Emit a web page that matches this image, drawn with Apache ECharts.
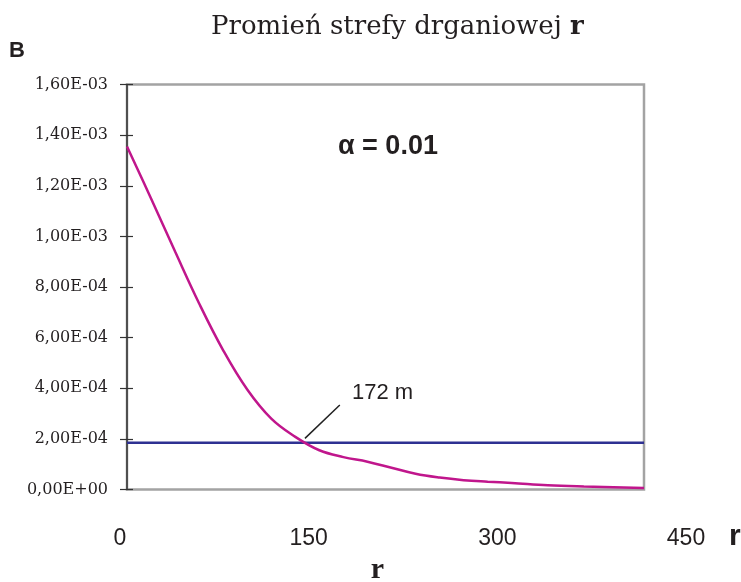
<!DOCTYPE html>
<html>
<head>
<meta charset="utf-8">
<script src="https://cdn.jsdelivr.net/npm/echarts@6/dist/echarts.min.js"></script>
<style>
  html, body { margin: 0; padding: 0; background: #fff; }
  #chart { width: 741px; height: 582px; }
</style>
</head>
<body>
<div id="chart"></div>
<script>
// promień r i wartość krzywej
const rValues = [0, 20, 40, 60, 80, 100, 120, 140, 160, 180, 200, 220, 240, 260, 280, 300, 320, 350, 380, 430];
const curveValues = [1.355e-3, 1.15e-3, 0.94e-3, 0.735e-3, 0.55e-3, 0.395e-3, 0.28e-3, 0.208e-3, 0.155e-3, 0.128e-3,
  0.110e-3, 0.086e-3, 0.062e-3, 0.047e-3, 0.037e-3, 0.031e-3, 0.026e-3, 0.017e-3, 0.012e-3, 0.006e-3];
const thresholdX = [0, 430];
const thresholdValue = 1.845e-4;
const xTickLabels = [0, 150, 300, 450];
const leaderFrom = [148, 2.02e-4];
const leaderTo = [177, 3.34e-4];

const chart = echarts.init(document.getElementById('chart'));

// 1.60e-3 -> 1,60E-03
function fmtExp(v) {
  if (v === 0) return '0,00E+00';
  const s = v.toExponential(2);
  const parts = s.split('e');
  const m = parts[0].replace('.', ',');
  const sign = parts[1][0];
  let e = parts[1].slice(1);
  if (e.length < 2) e = '0' + e;
  return m + 'E' + sign + e;
}

const option = {
  animation: false,
  backgroundColor: '#fff',
  title: {
    text: 'Promień strefy drganiowej {b|r}',
    left: 206,
    top: 9,
    textStyle: {
      fontFamily: 'DejaVu Serif',
      fontWeight: 'normal',
      fontSize: 26,
      color: '#231f20',
      rich: {
        b: { fontFamily: 'DejaVu Serif', fontWeight: 'bold', fontSize: 26, color: '#231f20' }
      }
    }
  },
  grid: [
    {
      left: 127, top: 84.5, width: 517, height: 405,
      show: true, borderColor: '#a3a3a3', borderWidth: 2.5, backgroundColor: 'transparent'
    },
    { left: 120, top: 488, width: 566, height: 2 }
  ],
  xAxis: [
    {
      gridIndex: 0, type: 'value', min: 0, max: 430,
      axisLine: { show: false }, axisTick: { show: false },
      axisLabel: { show: false }, splitLine: { show: false }
    },
    {
      gridIndex: 1, type: 'value', min: 0, max: 450, interval: 150,
      axisLine: { show: false }, axisTick: { show: false }, splitLine: { show: false },
      axisLabel: {
        margin: 37, fontSize: 23, color: '#231f20', fontFamily: 'Liberation Sans',
        formatter: v => xTickLabels.includes(v) ? String(v) : ''
      }
    }
  ],
  yAxis: [
    {
      gridIndex: 0, type: 'value', min: 0, max: 0.0016, interval: 0.0002,
      axisLine: { show: true, lineStyle: { color: '#333', width: 1.5 } },
      axisTick: { show: true, length: 7, lineStyle: { color: '#333', width: 1.2 } },
      splitLine: { show: false },
      axisLabel: {
        margin: 19, fontSize: 16, color: '#231f20', fontFamily: 'DejaVu Serif',
        formatter: fmtExp
      }
    },
    {
      gridIndex: 0, type: 'value', min: 0, max: 0.0016, interval: 0.0002, position: 'left',
      axisLine: { show: false }, axisLabel: { show: false }, splitLine: { show: false },
      axisTick: { show: true, inside: true, length: 6, lineStyle: { color: '#333', width: 1.2 } }
    },
    { gridIndex: 1, type: 'value', show: false }
  ],
  series: [
    {
      name: 'granica',
      type: 'line',
      xAxisIndex: 0, yAxisIndex: 0,
      data: thresholdX.map(x => [x, thresholdValue]),
      symbol: 'none',
      lineStyle: { color: '#2e3192', width: 2.5 }
    },
    {
      name: 'r',
      type: 'line',
      xAxisIndex: 0, yAxisIndex: 0,
      data: rValues.map((r, i) => [r, curveValues[i]]),
      smooth: 0.4,
      symbol: 'none',
      lineStyle: { color: '#c0168c', width: 2.5 },
      markLine: {
        silent: true,
        symbol: 'none',
        label: { show: false },
        lineStyle: { color: '#222', width: 1.5, type: 'solid' },
        data: [[{ coord: leaderFrom }, { coord: leaderTo }]]
      }
    }
  ],
  graphic: [
    {
      type: 'text', left: 9, top: 40,
      style: { text: 'B', font: 'bold 22px "Liberation Sans"', fill: '#231f20' }
    },
    {
      type: 'text', x: 338, y: 146.5,
      style: { text: 'α = 0.01', font: 'bold 27px "Liberation Sans"', fill: '#231f20', verticalAlign: 'middle' }
    },
    {
      type: 'text', x: 352, y: 393,
      style: { text: '172 m', font: '22px "Liberation Sans"', fill: '#231f20', verticalAlign: 'middle' }
    },
    {
      type: 'text', x: 729, y: 537,
      style: { text: 'r', font: 'bold 30px "Liberation Sans"', fill: '#231f20', verticalAlign: 'middle' }
    },
    {
      type: 'text', x: 377.5, y: 570,
      style: { text: 'r', font: 'bold 30px "Liberation Serif"', fill: '#231f20', align: 'center', verticalAlign: 'middle' }
    }
  ]
};

chart.setOption(option);
</script>
</body>
</html>
